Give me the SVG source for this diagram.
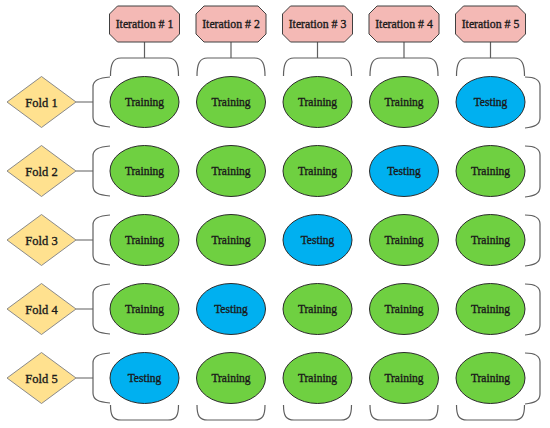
<svg xmlns="http://www.w3.org/2000/svg" width="550" height="428" viewBox="0 0 550 428">
<style>
.oct{fill:#F4B9B5;stroke:#404040;stroke-width:1}
.dia{fill:#FFE18F;stroke:#8a8a8a;stroke-width:1}
.tr{fill:#6FD041;stroke:#2b2b2b;stroke-width:1}
.te{fill:#00B0F0;stroke:#2b2b2b;stroke-width:1}
.br{fill:none;stroke:#5f5f5f;stroke-width:1.2}
.ln{fill:none;stroke:#5f5f5f;stroke-width:1.2}
text{font-family:"Liberation Serif","Times New Roman",serif;text-anchor:middle;fill:#1a1a1a;stroke:#1a1a1a;stroke-width:0.35}
.t{font-size:11.5px}
.f{font-size:12.5px}
.i{font-size:11.8px}
</style>
<rect width="550" height="428" fill="#ffffff"/>
<g id="connectors">
<path class="ln" d="M144.5,42V58M231,42V58M317.5,42V58M404,42V58M490.5,42V58"/>
<path class="ln" d="M76,102H93M76,171H93M76,240H93M76,309H93M76,378H93"/>
<g id="top-braces">
<path class="br" d="M110.5,76C110.5,64 113,58 121,58L168,58C176,58 178.5,64 178.5,76"/>
<path class="br" d="M197,76C197,64 199.5,58 207.5,58L254.5,58C262.5,58 265,64 265,76"/>
<path class="br" d="M283.5,76C283.5,64 286,58 294,58L341,58C349,58 351.5,64 351.5,76"/>
<path class="br" d="M370,76C370,64 372.5,58 380.5,58L427.5,58C435.5,58 438,64 438,76"/>
<path class="br" d="M456.5,76C456.5,64 459,58 467,58L514,58C522,58 524.5,64 524.5,76"/>
</g>
<g id="bottom-braces">
<path class="br" d="M110.5,405C110.5,416 113,420 121,420L168,420C176,420 178.5,416 178.5,405"/>
<path class="br" d="M197,405C197,416 199.5,420 207.5,420L254.5,420C262.5,420 265,416 265,405"/>
<path class="br" d="M283.5,405C283.5,416 286,420 294,420L341,420C349,420 351.5,416 351.5,405"/>
<path class="br" d="M370,405C370,416 372.5,420 380.5,420L427.5,420C435.5,420 438,416 438,405"/>
<path class="br" d="M456.5,405C456.5,416 459,420 467,420L514,420C522,420 524.5,416 524.5,405"/>
</g>
<g id="left-braces">
<path class="br" d="M110,77C99,78 93,80 93,87L93,117C93,124 99,126 110,127"/>
<path class="br" d="M110,146C99,147 93,149 93,156L93,186C93,193 99,195 110,196"/>
<path class="br" d="M110,215C99,216 93,218 93,225L93,255C93,262 99,264 110,265"/>
<path class="br" d="M110,284C99,285 93,287 93,294L93,324C93,331 99,333 110,334"/>
<path class="br" d="M110,353C99,354 93,356 93,363L93,393C93,400 99,402 110,403"/>
</g>
<g id="right-braces">
<path class="br" d="M525,77C534,77 540,79 540,86L540,118C540,125 534,127 525,128"/>
<path class="br" d="M525,146C534,146 540,148 540,155L540,187C540,194 534,196 525,197"/>
<path class="br" d="M525,215C534,215 540,217 540,224L540,256C540,263 534,265 525,266"/>
<path class="br" d="M525,284C534,284 540,286 540,293L540,325C540,332 534,334 525,335"/>
<path class="br" d="M525,353C534,353 540,355 540,362L540,394C540,401 534,403 525,404"/>
</g>
</g>
<g id="iter1"><polygon class="oct" points="117.5,6 171.5,6 179.5,14 179.5,34 171.5,42 117.5,42 109.5,34 109.5,14"/><text class="i" x="144.5" y="28">Iteration # 1</text></g>
<g id="iter2"><polygon class="oct" points="204,6 258,6 266,14 266,34 258,42 204,42 196,34 196,14"/><text class="i" x="231" y="28">Iteration # 2</text></g>
<g id="iter3"><polygon class="oct" points="290.5,6 344.5,6 352.5,14 352.5,34 344.5,42 290.5,42 282.5,34 282.5,14"/><text class="i" x="317.5" y="28">Iteration # 3</text></g>
<g id="iter4"><polygon class="oct" points="377,6 431,6 439,14 439,34 431,42 377,42 369,34 369,14"/><text class="i" x="404" y="28">Iteration # 4</text></g>
<g id="iter5"><polygon class="oct" points="463.5,6 517.5,6 525.5,14 525.5,34 517.5,42 463.5,42 455.5,34 455.5,14"/><text class="i" x="490.5" y="28">Iteration # 5</text></g>
<g id="fold1"><polygon class="dia" points="41.5,76.5 76,102 41.5,127.5 7,102"/><text class="f" x="41.5" y="106.5">Fold 1</text></g>
<g id="fold2"><polygon class="dia" points="41.5,145.5 76,171 41.5,196.5 7,171"/><text class="f" x="41.5" y="175.5">Fold 2</text></g>
<g id="fold3"><polygon class="dia" points="41.5,214.5 76,240 41.5,265.5 7,240"/><text class="f" x="41.5" y="244.5">Fold 3</text></g>
<g id="fold4"><polygon class="dia" points="41.5,283.5 76,309 41.5,334.5 7,309"/><text class="f" x="41.5" y="313.5">Fold 4</text></g>
<g id="fold5"><polygon class="dia" points="41.5,352.5 76,378 41.5,403.5 7,378"/><text class="f" x="41.5" y="382.5">Fold 5</text></g>
<g id="r1c1"><ellipse class="tr" cx="144.5" cy="102" rx="34.5" ry="25.5"/><text class="t" x="144.5" y="106">Training</text></g>
<g id="r1c2"><ellipse class="tr" cx="231" cy="102" rx="34.5" ry="25.5"/><text class="t" x="231" y="106">Training</text></g>
<g id="r1c3"><ellipse class="tr" cx="317.5" cy="102" rx="34.5" ry="25.5"/><text class="t" x="317.5" y="106">Training</text></g>
<g id="r1c4"><ellipse class="tr" cx="404" cy="102" rx="34.5" ry="25.5"/><text class="t" x="404" y="106">Training</text></g>
<g id="r1c5"><ellipse class="te" cx="490.5" cy="102" rx="34.5" ry="25.5"/><text class="t" x="490.5" y="106">Testing</text></g>
<g id="r2c1"><ellipse class="tr" cx="144.5" cy="171" rx="34.5" ry="25.5"/><text class="t" x="144.5" y="175">Training</text></g>
<g id="r2c2"><ellipse class="tr" cx="231" cy="171" rx="34.5" ry="25.5"/><text class="t" x="231" y="175">Training</text></g>
<g id="r2c3"><ellipse class="tr" cx="317.5" cy="171" rx="34.5" ry="25.5"/><text class="t" x="317.5" y="175">Training</text></g>
<g id="r2c4"><ellipse class="te" cx="404" cy="171" rx="34.5" ry="25.5"/><text class="t" x="404" y="175">Testing</text></g>
<g id="r2c5"><ellipse class="tr" cx="490.5" cy="171" rx="34.5" ry="25.5"/><text class="t" x="490.5" y="175">Training</text></g>
<g id="r3c1"><ellipse class="tr" cx="144.5" cy="240" rx="34.5" ry="25.5"/><text class="t" x="144.5" y="244">Training</text></g>
<g id="r3c2"><ellipse class="tr" cx="231" cy="240" rx="34.5" ry="25.5"/><text class="t" x="231" y="244">Training</text></g>
<g id="r3c3"><ellipse class="te" cx="317.5" cy="240" rx="34.5" ry="25.5"/><text class="t" x="317.5" y="244">Testing</text></g>
<g id="r3c4"><ellipse class="tr" cx="404" cy="240" rx="34.5" ry="25.5"/><text class="t" x="404" y="244">Training</text></g>
<g id="r3c5"><ellipse class="tr" cx="490.5" cy="240" rx="34.5" ry="25.5"/><text class="t" x="490.5" y="244">Training</text></g>
<g id="r4c1"><ellipse class="tr" cx="144.5" cy="309" rx="34.5" ry="25.5"/><text class="t" x="144.5" y="313">Training</text></g>
<g id="r4c2"><ellipse class="te" cx="231" cy="309" rx="34.5" ry="25.5"/><text class="t" x="231" y="313">Testing</text></g>
<g id="r4c3"><ellipse class="tr" cx="317.5" cy="309" rx="34.5" ry="25.5"/><text class="t" x="317.5" y="313">Training</text></g>
<g id="r4c4"><ellipse class="tr" cx="404" cy="309" rx="34.5" ry="25.5"/><text class="t" x="404" y="313">Training</text></g>
<g id="r4c5"><ellipse class="tr" cx="490.5" cy="309" rx="34.5" ry="25.5"/><text class="t" x="490.5" y="313">Training</text></g>
<g id="r5c1"><ellipse class="te" cx="144.5" cy="378" rx="34.5" ry="25.5"/><text class="t" x="144.5" y="382">Testing</text></g>
<g id="r5c2"><ellipse class="tr" cx="231" cy="378" rx="34.5" ry="25.5"/><text class="t" x="231" y="382">Training</text></g>
<g id="r5c3"><ellipse class="tr" cx="317.5" cy="378" rx="34.5" ry="25.5"/><text class="t" x="317.5" y="382">Training</text></g>
<g id="r5c4"><ellipse class="tr" cx="404" cy="378" rx="34.5" ry="25.5"/><text class="t" x="404" y="382">Training</text></g>
<g id="r5c5"><ellipse class="tr" cx="490.5" cy="378" rx="34.5" ry="25.5"/><text class="t" x="490.5" y="382">Training</text></g>
</svg>
